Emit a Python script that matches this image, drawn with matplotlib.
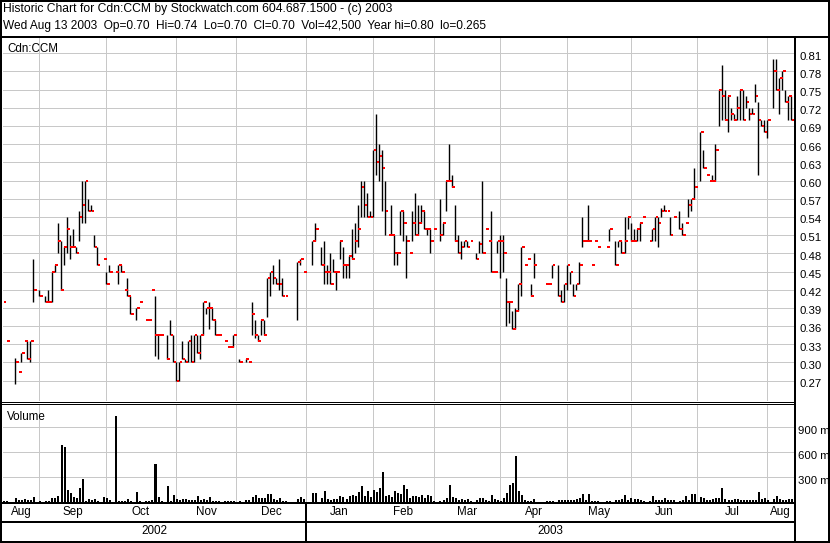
import matplotlib
matplotlib.use("Agg")
import matplotlib.pyplot as plt
import numpy as np
import pandas as pd

plt.rcParams["font.family"] = ["Liberation Sans", "DejaVu Sans"]

N = None
# one slot per weekday; days without trades (holidays etc.) are None
dates = pd.bdate_range("2002-08-14", "2003-08-13")

high = [
    .40, .335, N, N, .307, .285, .315, .335, .335, .335,
    .47, N, .42, N, .41, .42, .45, .46, .53, .50,
    .49, .54, .51, .52, .49, .55, .60, .60, .57, .56,
    .51, .49, N, .47, .45, .46, N, .45, .46, .46,
    .42, .44, .41, N, .39, .40, N, .37, .37, .42,
    .41, .345, .345, N, .345, .37, .345, .30, .30, .335,
    .305, .335, .345, .345, .345, .345, .40, .39, .40, .39,
    .37, .345, N, .335, .325, .325, .345, N, .305, N,
    .305, .30, .40, .37, .345, .37, .37, .44, .45, .46,
    .44, .47, .44, .41, N, N, N, .465, .47, .45,
    N, N, .50, .53, N, .49, .50, .46, .48, .47,
    .45, .50, .49, .46, .475, .52, .53, .56, .60, .60,
    .58, .55, .65, .71, .66, .65, .60, .51, .56, .51,
    .48, .55, .55, .51, .48, .55, .58, .56, .56, .55,
    .52, .52, .52, N, .57, .53, .60, .66, .61, .56,
    .51, .50, .50, .50, .50, N, .48, .50, .60, .52,
    .50, .55, .45, .50, .51, .51, .44, .40, .385, .39,
    .43, .49, .46, .47, .43, .48, N, N, N, .43,
    .43, .46, N, .46, .42, .43, .46, .45, .43, .43,
    .465, .54, .50, .56, .46, .50, .49, N, N, .49,
    .52, N, .50, .50, .50, .54, .54, .53, .52, .52,
    .53, .54, N, .50, .52, .54, .54, .555, .56, .55,
    .54, .54, N, .55, .53, .53, .57, .57, .62, N,
    .68, .65, .61, .60, .61, .66, .75, .79, .75, .74,
    .72, .71, .74, .75, .75, .74, .72, .72, .76, .73,
    .70, .70, .70, N, .80, .80, .77, .78, .75, .74,
    .74,
]
low = [
    .40, .335, N, N, .265, .285, .30, .335, .305, .30,
    .40, N, .41, N, .40, .40, .40, .45, .48, .42,
    .46, .48, .47, .49, .48, .50, .53, .53, .55, .55,
    .49, .46, N, .47, .43, .45, N, .45, .43, .45,
    .42, .41, .38, N, .37, .40, N, .37, .37, .42,
    .31, .305, .345, N, .305, .345, .30, .27, .27, .305,
    .30, .30, .30, .30, .315, .305, .345, .38, .355, .37,
    .345, .345, N, .335, .325, .325, .325, N, .30, N,
    .30, .30, .345, .34, .335, .345, .345, .375, .41, .43,
    .43, .42, .41, .41, N, N, N, .37, .46, .45,
    N, N, .46, .50, N, .46, .43, .43, .43, .45,
    .42, .47, .44, .44, .44, .47, .48, .49, .54, .54,
    .54, .54, .54, .61, .60, .55, .51, .51, .51, .46,
    .46, .51, .50, .44, .48, .50, .51, .51, .53, .52,
    .51, .48, .52, N, .50, .51, .55, .60, .59, .50,
    .48, .47, .49, .49, .50, N, .47, .48, .48, .52,
    .50, .45, .45, .48, .44, .45, .36, .365, .355, .355,
    .385, .41, .46, .47, .41, .44, N, N, N, .43,
    .43, .44, N, .41, .40, .40, .42, .43, .41, .42,
    .43, .49, .50, .50, .46, .50, .49, N, N, .49,
    .50, N, .46, .49, .48, .48, .52, .50, .50, .50,
    .50, .54, N, .50, .50, .50, .49, .54, .55, .55,
    .51, .54, N, .52, .51, .53, .54, .55, .57, N,
    .60, .62, .61, .60, .60, .60, .69, .70, .70, .68,
    .70, .70, .70, .70, .70, .72, .70, .71, .73, .61,
    .69, .68, .67, N, .72, .75, .71, .75, .73, .70,
    .70,
]
close = [
    .40, .335, N, N, .30, .285, .315, .335, .305, .335,
    .42, N, .41, N, .40, .40, .45, .46, .50, .42,
    .49, .52, .49, .49, .48, .54, .56, .60, .55, .55,
    .49, .46, N, .47, .43, .45, N, .45, .46, .45,
    .42, .41, .38, N, .39, .40, N, .37, .37, .42,
    .345, .345, .345, N, .305, .345, .30, .27, .30, .305,
    .30, .335, .30, .345, .315, .345, .40, .39, .39, .37,
    .345, .345, N, .335, .325, .325, .345, N, .30, N,
    .305, .30, .38, .345, .335, .37, .345, .44, .45, .44,
    .43, .43, .41, .41, N, N, N, .465, .47, .45,
    N, N, .50, .52, N, .46, .45, .45, .43, .45,
    .45, .50, .46, .46, .475, .47, .50, .52, .59, .56,
    .54, .54, .65, .63, .64, .62, .55, .51, .51, .48,
    .48, .55, .53, .50, .48, .53, .51, .53, .55, .52,
    .52, .50, .52, N, .51, .53, .60, .60, .59, .50,
    .48, .49, .50, .49, .50, N, .47, .495, .48, .52,
    .50, .45, .45, .50, .50, .48, .40, .40, .355, .385,
    .43, .49, .46, .47, .41, .46, N, N, N, .43,
    .43, .46, N, .41, .40, .43, .46, .45, .41, .43,
    .46, .50, .50, .50, .46, .50, .49, N, N, .49,
    .52, N, .46, .50, .48, .50, .54, .50, .50, .52,
    .53, .54, N, .50, .52, .54, .53, .55, .55, .55,
    .51, .54, N, .52, .51, .53, .56, .57, .59, N,
    .68, .62, .61, .60, .60, .65, .75, .74, .70, .74,
    .71, .70, .72, .75, .70, .73, .71, .71, .74, .70,
    .69, .68, .70, N, .78, .75, .77, .78, .73, .74,
    .70,
]
volume = [  # thousands of shares
    16, 16, 0, 0, 52, 24, 32, 44, 24, 24,
    64, 0, 20, 0, 20, 20, 52, 48, 76, 688,
    660, 152, 116, 64, 56, 176, 280, 20, 44, 24,
    44, 20, 0, 64, 56, 32, 0, 1036, 16, 16,
    16, 44, 16, 0, 128, 20, 0, 16, 20, 24,
    460, 64, 20, 0, 200, 20, 88, 44, 32, 40,
    40, 28, 32, 24, 76, 32, 36, 28, 64, 20,
    20, 20, 0, 20, 20, 20, 20, 0, 20, 0,
    32, 32, 64, 84, 52, 56, 56, 100, 100, 40,
    28, 48, 20, 16, 0, 0, 0, 40, 64, 44,
    0, 0, 112, 112, 0, 52, 136, 40, 28, 36,
    40, 76, 68, 36, 76, 84, 80, 124, 200, 76,
    140, 60, 148, 124, 172, 368, 80, 92, 68, 136,
    112, 100, 208, 164, 48, 76, 76, 68, 88, 48,
    84, 76, 20, 0, 16, 32, 48, 208, 64, 48,
    32, 40, 24, 36, 20, 0, 24, 56, 48, 32,
    16, 88, 40, 24, 20, 56, 112, 208, 232, 556,
    136, 92, 24, 20, 12, 36, 0, 0, 0, 16,
    16, 16, 0, 24, 28, 32, 32, 32, 32, 44,
    56, 100, 24, 96, 20, 16, 16, 0, 0, 16,
    16, 0, 32, 24, 36, 88, 28, 48, 36, 44,
    24, 16, 0, 16, 76, 24, 24, 32, 52, 24,
    24, 24, 0, 16, 32, 76, 32, 96, 100, 0,
    60, 56, 24, 24, 40, 48, 52, 172, 36, 32,
    28, 40, 36, 24, 28, 32, 32, 32, 32, 124,
    36, 48, 24, 0, 40, 72, 44, 32, 32, 44,
    42.5,
]

price_ticks = [0.27, 0.30, 0.33, 0.36, 0.39, 0.42, 0.45, 0.48, 0.51, 0.54,
               0.57, 0.60, 0.63, 0.66, 0.69, 0.72, 0.75, 0.78, 0.81]
volume_ticks = [300, 600, 900]
volume_tick_labels = ["300 m", "600 m", "900 m"]
month_starts = pd.date_range("2002-09-01", "2003-08-01", freq="MS")
month_names = ["Aug", "Sep", "Oct", "Nov", "Dec", "Jan", "Feb", "Mar", "Apr",
               "May", "Jun", "Jul", "Aug"]
years = ["2002", "2003"]
title_line1 = "Historic Chart for Cdn:CCM by Stockwatch.com 604.687.1500 - (c) 2003"
title_line2 = ("Wed Aug 13 2003  Op=0.70  Hi=0.74  Lo=0.70  Cl=0.70  "
               "Vol=42,500  Year hi=0.80  lo=0.265")
symbol = "Cdn:CCM"
volume_title = "Volume"

# ---------------------------------------------------------------- layout
W, H = 830, 543
PX = 72.0 / 100.0          # points per pixel
FS = 8.0                   # label font size
fig = plt.figure(figsize=(W / 100, H / 100), dpi=100)
fig.patch.set_facecolor("white")


def box(x0, y0, x1, y1):
    return [x0 / W, 1 - y1 / H, (x1 - x0) / W, (y1 - y0) / H]


def arr(values):
    return np.array([np.nan if v is None else v for v in values], dtype=float)


hi, lo, cl, vol = arr(high), arr(low), arr(close), arr(volume)
idx = np.arange(len(dates))
traded = ~np.isnan(cl)
ranged = traded & (hi > lo)

grid_idx = [int(dates.searchsorted(m, side="right")) - 1 for m in month_starts]
XL = (0.0, 260.9)
GRID = "#c8c8c8"

# ---------------------------------------------------------------- price panel
ax_p = fig.add_axes(box(3, 38, 794, 401))
ax_p.set_xlim(*XL)
ax_p.set_ylim(0.2365, 0.8352)
for s in ax_p.spines.values():
    s.set_visible(False)
ax_p.set_xticks(grid_idx)
ax_p.set_yticks(price_ticks)
ax_p.tick_params(left=False, bottom=False, labelleft=False, labelbottom=False)
ax_p.grid(True, color=GRID, lw=1.0 * PX)
ax_p.set_axisbelow(True)
ax_p.vlines(idx[ranged], lo[ranged], hi[ranged], colors="black", lw=1.4 * PX)
ax_p.hlines(cl[traded], idx[traded] + 0.25, idx[traded] + 1.15,
            colors="#ff0000", lw=2.0 * PX)
for v in price_ticks:
    ax_p.annotate(f"{v:.2f}", xy=(1, v), xycoords=("axes fraction", "data"),
                  xytext=(5, -3.3), textcoords="offset pixels",
                  ha="left", va="center", fontsize=FS + 0.2, annotation_clip=False)
ax_p.text(4 / 791, 1 - 11 / 363, symbol, transform=ax_p.transAxes,
          ha="left", va="center", fontsize=FS + 0.4)

# ---------------------------------------------------------------- volume panel
ax_v = fig.add_axes(box(3, 405, 794, 502.3))
ax_v.set_xlim(*XL)
ax_v.set_ylim(0, (502.3 - 405) * 12)
for s in ax_v.spines.values():
    s.set_visible(False)
ax_v.set_xticks(grid_idx)
ax_v.set_yticks(volume_ticks)
ax_v.tick_params(left=False, bottom=False, labelleft=False, labelbottom=False)
ax_v.grid(True, color=GRID, lw=1.0 * PX)
ax_v.set_axisbelow(True)
ax_v.bar(idx + 0.3, vol, width=0.66, color="black", linewidth=0)
for v, t in zip(volume_ticks, volume_tick_labels):
    ax_v.annotate(t, xy=(1, v), xycoords=("axes fraction", "data"),
                  xytext=(4, -3.4), textcoords="offset pixels",
                  ha="left", va="center", fontsize=FS + 0.2, annotation_clip=False)
ax_v.text(4 / 791, 1 - 12 / 97.3, volume_title, transform=ax_v.transAxes,
          ha="left", va="center", fontsize=FS + 0.4)

# ---------------------------------------------------------------- date strips
ax_m = fig.add_axes(box(3, 503, 794, 541))
ax_m.set_xlim(*XL)
ax_m.set_ylim(0, 1)
ax_m.axis("off")
bounds = [XL[0]] + grid_idx + [XL[1]]
for name, a, b in zip(month_names, bounds[:-1], bounds[1:]):
    ax_m.text((a + b) / 2, (541 - 512) / 38, name, ha="center", va="center",
              fontsize=FS + 0.4)
year_split = int(dates.searchsorted(pd.Timestamp("2003-01-01")))
ybounds = [XL[0], year_split, XL[1]]
for name, a, b in zip(years, ybounds[:-1], ybounds[1:]):
    ax_m.text((a + b) / 2, (541 - 531.5) / 38, name, ha="center", va="center",
              fontsize=FS + 0.4)
ax_m.axvline(year_split, color="black", lw=2 * PX)

# ---------------------------------------------------------------- frame overlay
ov = fig.add_axes([0, 0, 1, 1], zorder=10)
ov.set_xlim(0, W)
ov.set_ylim(H, 0)
ov.axis("off")
ov.patch.set_alpha(0)


def hline(y, x0, x1, w=2):
    ov.plot([x0, x1], [y, y], color="black", lw=w * PX, solid_capstyle="butt")


def vline(x, y0, y1, w=2):
    ov.plot([x, x], [y0, y1], color="black", lw=w * PX, solid_capstyle="butt")


hline(1, 0, W)            # top
hline(37, 0, W)           # under header
hline(401.5, 0, 795, 1)   # double separator
hline(404, 0, 795, 1)
hline(503, 0, 795)
hline(522, 0, 795)
hline(541.5, 0, W)        # bottom
vline(1, 0, H)            # left
vline(829, 0, H)          # right
vline(795, 37, H)         # axis divider

ov.text(3, 9, title_line1, ha="left", va="center", fontsize=FS + 0.75)
ov.text(3, 26, title_line2, ha="left", va="center", fontsize=FS + 0.6)

fig.savefig("out.png", dpi=100, facecolor="white")
